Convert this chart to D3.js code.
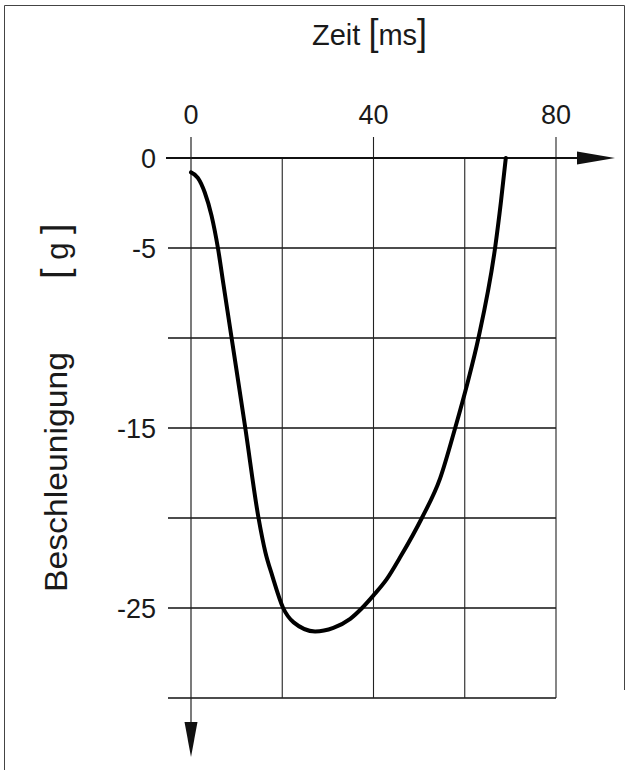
<!DOCTYPE html>
<html>
<head>
<meta charset="utf-8">
<script src="https://cdn.jsdelivr.net/npm/d3@7"></script>
<style>
  body { margin: 0; background: #fff; }
  svg { display: block; }
  text { font-family: "Liberation Sans", Arial, sans-serif; fill: #1a1a1a; }
</style>
</head>
<body>
<div id="chart"></div>
<script>
// Zeit [ms] und Beschleunigung [g]
var zeitMs = [0, 1.5, 3.0, 4.5, 5.9, 7.1, 8.9, 11.9, 14.8, 16.3, 17.8,
    20.2, 22.5, 27.2, 31.2, 34.9, 37.5, 40.0, 42.9, 45.8, 50.6, 54.6, 57.9, 60.6,
    63.0, 66.7, 67.9, 69.0];
var beschleunigungG = [-0.8, -1.1, -1.9, -3.2, -5, -7, -10, -15, -20, -21.9, -23.2,
    -25, -25.8, -26.3, -26.1, -25.6, -25, -24.3, -23.4, -22.2, -20, -17.8, -15, -12.5,
    -10, -4.9, -2.5, 0];

var zeitTicks = [0, 40, 80];
var zeitGrid = [20, 40, 60, 80];
var accelTicks = [0, -5, -15, -25];
var accelGrid = [-5, -10, -15, -20, -25, -30];

var width = 629, height = 774;

var x = d3.scaleLinear().domain([0, 80]).range([191, 556]);
var y = d3.scaleLinear().domain([0, -30]).range([158, 698]);

var svg = d3.select("#chart").append("svg")
    .attr("width", width)
    .attr("height", height);

// frame
svg.append("path")
    .attr("d", "M4.5,770 L4.5,5.5 L624.5,5.5 L624.5,690")
    .attr("fill", "none")
    .attr("stroke", "#444")
    .attr("stroke-width", 1);

// horizontal grid
svg.selectAll("line.hgrid")
    .data(accelGrid)
    .enter()
    .append("line")
    .attr("class", "hgrid")
    .attr("x1", x(0) - 23)
    .attr("x2", x(80))
    .attr("y1", function (d) { return y(d); })
    .attr("y2", function (d) { return y(d); })
    .attr("stroke", "#111")
    .attr("stroke-width", 1.5);

// vertical grid
svg.selectAll("line.vgrid")
    .data(zeitGrid)
    .enter()
    .append("line")
    .attr("class", "vgrid")
    .attr("x1", function (d) { return x(d); })
    .attr("x2", function (d) { return x(d); })
    .attr("y1", function (d) { return d % 40 === 0 ? y(0) - 21 : y(0); })
    .attr("y2", y(-30))
    .attr("stroke", "#222")
    .attr("stroke-width", 1.1);

// zero line with arrow
svg.append("line")
    .attr("x1", x(0) - 25).attr("x2", 580)
    .attr("y1", y(0)).attr("y2", y(0))
    .attr("stroke", "#111").attr("stroke-width", 1.8);
svg.append("path")
    .attr("d", "M577," + (y(0) - 6.5) + " L615," + y(0) + " L577," + (y(0) + 6.5) + " Z")
    .attr("fill", "#111");

// y axis with arrow
svg.append("line")
    .attr("x1", x(0)).attr("x2", x(0))
    .attr("y1", y(0) - 21).attr("y2", 724)
    .attr("stroke", "#222").attr("stroke-width", 1.2);
svg.append("path")
    .attr("d", "M" + (x(0) - 6.5) + ",722 L" + x(0) + ",757 L" + (x(0) + 6.5) + ",722 Z")
    .attr("fill", "#111");

// tick labels
svg.selectAll("text.xlab")
    .data(zeitTicks)
    .enter()
    .append("text")
    .attr("class", "xlab")
    .attr("x", function (d) { return x(d); })
    .attr("y", 124)
    .attr("text-anchor", "middle")
    .style("font-size", "27px")
    .text(function (d) { return d; });

svg.selectAll("text.ylab")
    .data(accelTicks)
    .enter()
    .append("text")
    .attr("class", "ylab")
    .attr("x", 156)
    .attr("y", function (d) { return y(d) + 10; })
    .attr("text-anchor", "end")
    .style("font-size", "27px")
    .text(function (d) { return d; });

// curve
var line = d3.line()
    .x(function (d) { return x(d[0]); })
    .y(function (d) { return y(d[1]); })
    .curve(d3.curveMonotoneX);

svg.append("path")
    .datum(d3.zip(zeitMs, beschleunigungG))
    .attr("d", line)
    .attr("fill", "none")
    .attr("stroke", "#000")
    .attr("stroke-width", 4)
    .attr("stroke-linecap", "round")
    .attr("stroke-linejoin", "round");

// titles
var title = svg.append("text")
    .attr("x", 312)
    .attr("y", 45)
    .style("font-size", "29px");
title.append("tspan").text("Zeit ");
title.append("tspan").style("font-size", "36px").text("[");
title.append("tspan").text("ms");
title.append("tspan").style("font-size", "36px").text("]");

svg.append("text")
    .attr("transform", "translate(67,592) rotate(-90)")
    .attr("textLength", 240)
    .attr("lengthAdjust", "spacingAndGlyphs")
    .style("font-size", "31px")
    .text("Beschleunigung");

var unit = svg.append("text")
    .attr("transform", "translate(68,279) rotate(-90)")
    .style("font-size", "31px");
unit.append("tspan").style("font-size", "38px").text("[");
unit.append("tspan").text(" g ");
unit.append("tspan").style("font-size", "38px").text("]");
</script>
</body>
</html>
